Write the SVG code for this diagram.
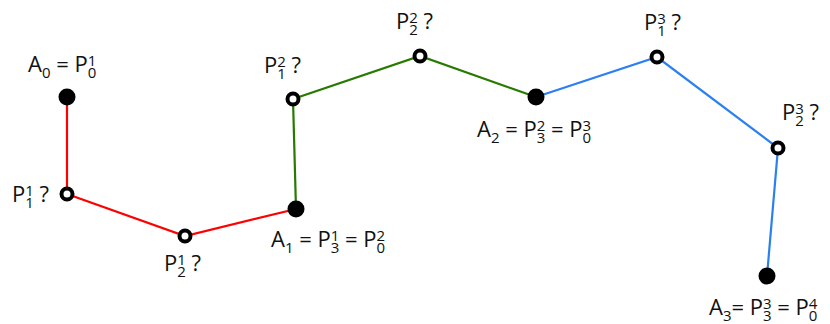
<svg xmlns="http://www.w3.org/2000/svg" width="830" height="324" viewBox="0 0 830 324">
<style>
text{font-family:"Open Sans","Noto Sans",sans-serif;font-size:22px;fill:#111}
.s{font-size:15px}
.seg{fill:none;stroke-width:2.2}
.fill{fill:#000}
.open{fill:#fff;stroke:#000;stroke-width:4}
</style>
<rect width="830" height="324" fill="#fff"/>
<g id="connectors">
<polyline class="seg" stroke="#ff0000" points="67,97 67,194 185,236 296,209"/>
<polyline class="seg" stroke="#267a00" points="296,209 293,99 420,56 536,97"/>
<polyline class="seg" stroke="#2a80f0" points="536,97 657,57 778,148 767,276"/>
</g>
<g id="A0"><circle class="fill" cx="67" cy="97" r="8.5"/>
<text x="28" y="72">A<tspan class="s" dy="6">0</tspan><tspan dy="-6"> = P</tspan><tspan class="s" dy="-6">1</tspan><tspan class="s" dx="-8.6" dy="12">0</tspan></text></g>
<g id="P11"><circle class="open" cx="67" cy="194" r="5.5"/>
<text x="12" y="202">P<tspan class="s" dy="-6">1</tspan><tspan class="s" dx="-8.6" dy="12">1</tspan><tspan dy="-6"> ?</tspan></text></g>
<g id="P21"><circle class="open" cx="185" cy="236" r="5.5"/>
<text x="164" y="271">P<tspan class="s" dy="-6">1</tspan><tspan class="s" dx="-8.6" dy="12">2</tspan><tspan dy="-6"> ?</tspan></text></g>
<g id="A1"><circle class="fill" cx="296" cy="209" r="8.5"/>
<text x="271" y="247">A<tspan class="s" dy="6">1</tspan><tspan dy="-6"> = P</tspan><tspan class="s" dy="-6">1</tspan><tspan class="s" dx="-8.6" dy="12">3</tspan><tspan dy="-6"> = P</tspan><tspan class="s" dy="-6">2</tspan><tspan class="s" dx="-8.6" dy="12">0</tspan></text></g>
<g id="P12"><circle class="open" cx="293" cy="99" r="5.5"/>
<text x="264" y="73">P<tspan class="s" dy="-6">2</tspan><tspan class="s" dx="-8.6" dy="12">1</tspan><tspan dy="-6"> ?</tspan></text></g>
<g id="P22"><circle class="open" cx="420" cy="56" r="5.5"/>
<text x="396" y="29">P<tspan class="s" dy="-6">2</tspan><tspan class="s" dx="-8.6" dy="12">2</tspan><tspan dy="-6"> ?</tspan></text></g>
<g id="A2"><circle class="fill" cx="536" cy="97" r="8.5"/>
<text x="477" y="137">A<tspan class="s" dy="6">2</tspan><tspan dy="-6"> = P</tspan><tspan class="s" dy="-6">2</tspan><tspan class="s" dx="-8.6" dy="12">3</tspan><tspan dy="-6"> = P</tspan><tspan class="s" dy="-6">3</tspan><tspan class="s" dx="-8.6" dy="12">0</tspan></text></g>
<g id="P13"><circle class="open" cx="657" cy="57" r="5.5"/>
<text x="644" y="30">P<tspan class="s" dy="-6">3</tspan><tspan class="s" dx="-8.6" dy="12">1</tspan><tspan dy="-6"> ?</tspan></text></g>
<g id="P23"><circle class="open" cx="778" cy="148" r="5.5"/>
<text x="782" y="120">P<tspan class="s" dy="-6">3</tspan><tspan class="s" dx="-8.6" dy="12">2</tspan><tspan dy="-6"> ?</tspan></text></g>
<g id="A3"><circle class="fill" cx="767" cy="276" r="8.5"/>
<text x="709" y="315">A<tspan class="s" dy="6">3</tspan><tspan dy="-6">= P</tspan><tspan class="s" dy="-6">3</tspan><tspan class="s" dx="-8.6" dy="12">3</tspan><tspan dy="-6"> = P</tspan><tspan class="s" dy="-6">4</tspan><tspan class="s" dx="-8.6" dy="12">0</tspan></text></g>
</svg>
